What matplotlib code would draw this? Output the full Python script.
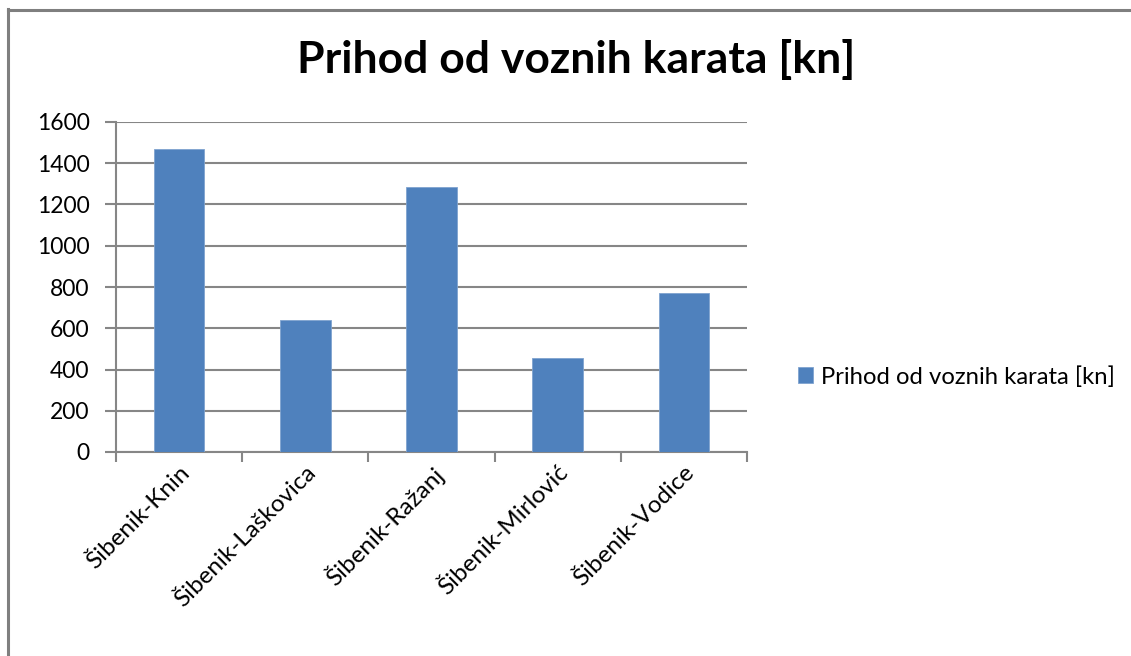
import matplotlib.pyplot as plt
from matplotlib.lines import Line2D

plt.rcParams['font.family'] = ['Lato', 'DejaVu Sans']

# data
routes = ['Šibenik-Knin', 'Šibenik-Laškovica', 'Šibenik-Ražanj',
          'Šibenik-Mirlović', 'Šibenik-Vodice']
revenue = [1470, 638, 1284, 458, 771]
series_name = 'Prihod od voznih karata [kn]'
yticks = [0, 200, 400, 600, 800, 1000, 1200, 1400, 1600]

W, H = 1131, 656
fig = plt.figure(figsize=(W / 100, H / 100), dpi=100)
ax = fig.add_axes([116 / W, 1 - 452 / H, (747 - 116) / W, (452 - 122) / H])

grey = '#868686'
x = list(range(len(routes)))
bars = ax.bar(x, revenue, width=0.4, color='#4F81BD', edgecolor='#7FA3CF',
              linewidth=0.6, label=series_name, zorder=3)

ax.set_xlim(-0.5, len(routes) - 0.5)
ax.set_ylim(0, 1600)
ax.set_yticks(yticks)
ax.set_yticklabels([str(v) for v in yticks], fontsize=16.5)
ax.yaxis.grid(True, color=grey, linewidth=1.5, zorder=0)

# category ticks sit on the boundaries, labels on the centres
ax.set_xticks([i - 0.5 for i in range(len(routes) + 1)])
ax.set_xticklabels([])
ax.set_xticks(x, minor=True)
ax.set_xticklabels(routes, minor=True, rotation=45, ha='right',
                   rotation_mode='anchor', fontsize=17.5)
ax.tick_params(axis='x', which='minor', length=0, pad=7)
ax.tick_params(axis='x', which='major', length=7, width=1.5, color=grey, direction='out')
ax.tick_params(axis='y', length=8, width=1.5, color=grey, pad=11)

for side in ['top', 'right']:
    ax.spines[side].set_visible(False)
for side in ['left', 'bottom']:
    ax.spines[side].set_color(grey)
    ax.spines[side].set_linewidth(1.5)

fig.text(576 / W, 1 - 60 / H, series_name, ha='center', va='center',
         fontsize=32, fontweight='bold')

fig.legend(handles=[bars], labels=[series_name], loc='center left',
           bbox_to_anchor=(788 / W, 1 - 377 / H), frameon=False,
           fontsize=17.2, handlelength=0.65, handleheight=0.65,
           handletextpad=0.35, borderaxespad=0)

# outer chart border (left and top edges only are visible)
fig.add_artist(Line2D([7.5 / W, 7.5 / W], [0, 1 - 9 / H], color='#7f7f7f',
                      linewidth=2.2, transform=fig.transFigure))
fig.add_artist(Line2D([7.5 / W, 1], [1 - 9.5 / H, 1 - 9.5 / H], color='#7f7f7f',
                      linewidth=2.2, transform=fig.transFigure))

fig.savefig('out.png', dpi=100)
